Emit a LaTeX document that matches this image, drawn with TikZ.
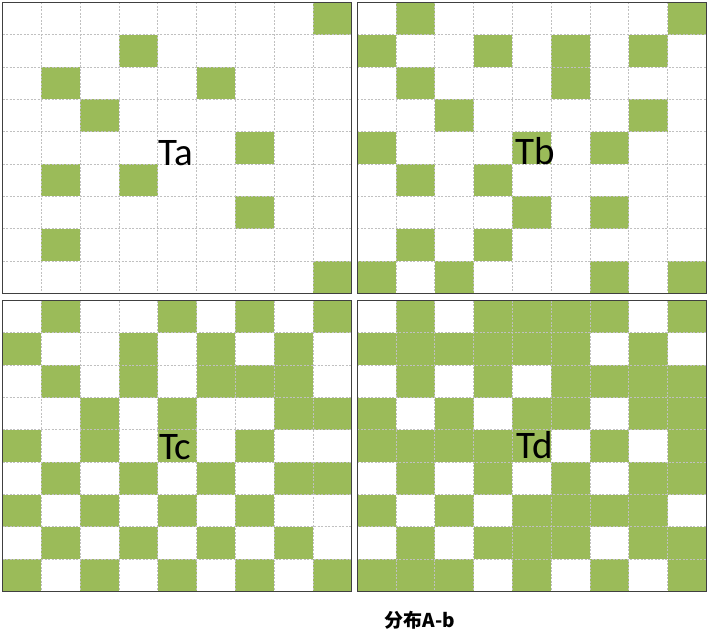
\documentclass[tikz,border=0pt]{standalone}
\usepackage{fontspec}
\setmainfont{Carlito}
\newfontfamily\cjkfont{Noto Sans CJK SC}
\definecolor{cellgreen}{RGB}{155,187,89}
\definecolor{gridgray}{RGB}{192,192,192}
\definecolor{framegray}{RGB}{64,64,64}
\tikzset{
  gridline/.style={gridgray, dash pattern=on 2pt off 1.5pt, line width=0.8pt},
  panelframe/.style={draw=framegray, line width=1.3pt},
  paneltext/.style={font=\fontsize{39}{39}\selectfont, anchor=base west, inner sep=0pt, text=black},
  captiontext/.style={font=\cjkfont\bfseries\fontsize{19}{19}\selectfont, inner sep=0pt, text=black},
}
% #1 x0, #2 y0, #3 base colour, #4 cell colour, #5 list of col/row
\newcommand{\mygridpanel}[5]{%
  \begin{scope}[shift={(#1,#2)}]
    \fill[#3] (0,0) rectangle (349,291);
    \foreach \c/\r in {#5} {
      \fill[#4] (\c*38.7778,\r*32.3333) rectangle ++(38.7778,32.3333);
    }
    \foreach \i in {1,...,8} {
      \draw[gridline] (\i*38.7778,0) -- (\i*38.7778,291);
      \draw[gridline] (0,\i*32.3333) -- (349,\i*32.3333);
    }
    \draw[panelframe] (0,0) rectangle (349,291);
  \end{scope}}
\begin{document}
\begin{tikzpicture}[x=1pt,y=-1pt]
\useasboundingbox (0,0) rectangle (710,632);
% Ta
\mygridpanel{2.7}{2.3}{white}{cellgreen}{8/0,3/1,1/2,5/2,2/3,6/4,1/5,3/5,6/6,1/7,8/8}
% Tb
\mygridpanel{357.3}{2.3}{white}{cellgreen}{1/0,8/0,0/1,3/1,5/1,7/1,1/2,5/2,2/3,7/3,0/4,4/4,6/4,1/5,3/5,4/6,6/6,1/7,3/7,0/8,2/8,6/8,8/8}
% Tc
\mygridpanel{2.7}{300.5}{white}{cellgreen}{1/0,4/0,6/0,8/0,0/1,3/1,5/1,7/1,1/2,3/2,5/2,6/2,7/2,2/3,4/3,7/3,8/3,0/4,2/4,4/4,6/4,1/5,3/5,5/5,7/5,8/5,0/6,2/6,4/6,6/6,1/7,3/7,5/7,7/7,0/8,2/8,4/8,6/8,8/8}
% Td
\mygridpanel{357.3}{300.5}{cellgreen}{white}{0/0,2/0,7/0,6/1,8/1,0/2,2/2,4/2,1/3,3/3,6/3,5/4,7/4,0/5,2/5,4/5,6/5,1/6,3/6,8/6,0/7,2/7,6/7,3/8,5/8,7/8}
\node[paneltext] (ta) at (158,165) {Ta};
\node[paneltext] (tb) at (515,164) {Tb};
\node[paneltext] (tc) at (159,459) {Tc};
\node[paneltext] (td) at (516,458) {Td};
\node[captiontext] (cap) at (420,620) {分布A-b};
\end{tikzpicture}
\end{document}
